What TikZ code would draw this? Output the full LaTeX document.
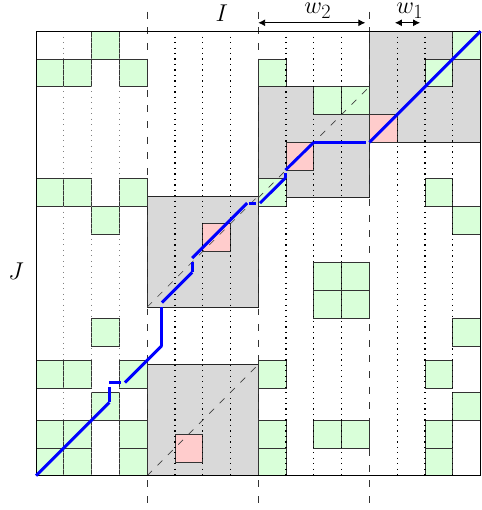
\documentclass[tikz,border=0pt]{standalone}
\usepackage{amsmath,amssymb}
\usepackage{tikz}
\usetikzlibrary{arrows.meta,calc}
\usepackage{xcolor}

\begin{document}
\begin{tikzpicture}[x=1cm,y=1cm,>={Latex[length=7pt,width=7pt]},every node/.style={font=\Huge,inner sep=0pt},
  blk/.style={draw=black!85,line width=0.8pt,fill=black!15},
  gcell/.style={draw=black!80,line width=0.8pt,fill=green!15},
  pcell/.style={draw=black!80,line width=0.8pt,fill=red!20},
  sep/.style={black!80,line width=0.8pt,dash pattern=on 7pt off 9pt},
  diag/.style={black!75,line width=0.6pt,dash pattern=on 7pt off 8pt},
  lightdot/.style={gray,line width=0.8pt,dash pattern=on 0.8pt off 4.8pt},
  darkdot/.style={black,line width=1.3pt,dash pattern=on 1.3pt off 4.3pt},
  walk/.style={blue,line width=3pt},
  jump/.style={blue,line width=3pt,shorten >=4pt}]
\useasboundingbox (-1.295,-1.234) rectangle (16.04,17.12);
% window blocks
\draw[blk] (4,0) rectangle (8,4);
\draw[blk] (4,6.07) rectangle (8,10.07);
\draw[blk] (8,10) rectangle (12,14);
\draw[blk] (12,12) rectangle (16,16);
% matches
\foreach \c/\r in {0/14,1/14,3/14,2/15,0/9.7,1/9.7,3/9.7,2/8.7,2/4.67,0/3.15,1/3.15,3/3.15,2/2,0/1,1/1,3/1,0/0,1/0,3/0,
  8/14,8/9.7,8/3.15,8/1,8/0,10/13,11/13,10/6.67,11/6.67,10/5.67,11/5.67,10/1,11/1,
  14/14,15/15,14/9.7,15/8.7,15/4.67,14/3.15,14/1,14/0,15/2}
  \draw[gcell] (\c,\r) rectangle ++(1,1);
\foreach \c/\r in {5/0.47,6/8.07,9/11,12/12}
  \draw[pcell] (\c,\r) rectangle ++(1,1);
% separators and columns
\foreach \c in {4,8,12}
  \draw[sep] (\c,16.7) -- (\c,-1.3);
\foreach \c in {1,2,3}
  \draw[lightdot] (\c,16) -- (\c,0);
\foreach \c in {5,6,7,9,10,11,13,14,15}
  \draw[darkdot] (\c,16) -- (\c,0);
\draw[diag] (4,0) -- (8,4);
\draw[diag] (4,6.07) -- (8,10.07);
\draw[diag] (8,10) -- (12,14);
\draw[line width=0.8pt] (0,0) rectangle (16,16);
% warping path
\coordinate (p0) at (0,0);
\coordinate (p1) at (2.64,2.64);
\coordinate (p2) at (2.64,3.35);
\coordinate (p3) at (3.2,3.35);
\coordinate (p4) at (4.53,4.68);
\coordinate (p5) at (4.53,6.23);
\coordinate (p6) at (5.62,7.32);
\coordinate (p7) at (5.62,7.83);
\coordinate (p8) at (7.6,9.81);
\coordinate (p9) at (8.06,9.81);
\coordinate (p10) at (8.98,10.72);
\coordinate (p11) at (8.98,11);
\coordinate (p12) at (10,12);
\coordinate (p13) at (12,12);
\coordinate (p14) at (16,16);
\draw[walk] (p0) -- (p1);
\draw[jump] (p1) -- (p2);
\draw[jump] (p2) -- (p3);
\draw[walk] (p3) -- (p4);
\draw[jump] (p4) -- (p5);
\draw[walk] (p5) -- (p6);
\draw[jump] (p6) -- (p7);
\draw[walk] (p7) -- (p8);
\draw[jump,shorten <=1.5pt] (p8) -- (p9);
\draw[walk] (p9) -- (p10);
\draw[jump,shorten >=3pt] (p10) -- (p11);
\draw[walk] (p11) -- (p12);
\draw[jump,shorten >=3.5pt] (p12) -- (p13);
\draw[walk] (p13) -- (p14);
% labels
\node[anchor=base] (lblI) at (6.69,16.34) {$I$};
\node (lblJ) at (-0.72,7.37) {$J$};
\node[anchor=base] (lblW2) at (10.14,16.64) {$w_2$};
\node[anchor=base] (lblW1) at (13.45,16.64) {$w_1$};
\coordinate (w2l) at (8,16.3);
\coordinate (w2r) at (11.85,16.3);
\coordinate (w1l) at (12.92,16.3);
\coordinate (w1r) at (13.82,16.3);
\draw[<->,line width=0.8pt] (w2l) -- (w2r);
\draw[<->,line width=0.8pt] (w1l) -- (w1r);
\end{tikzpicture}
\end{document}
